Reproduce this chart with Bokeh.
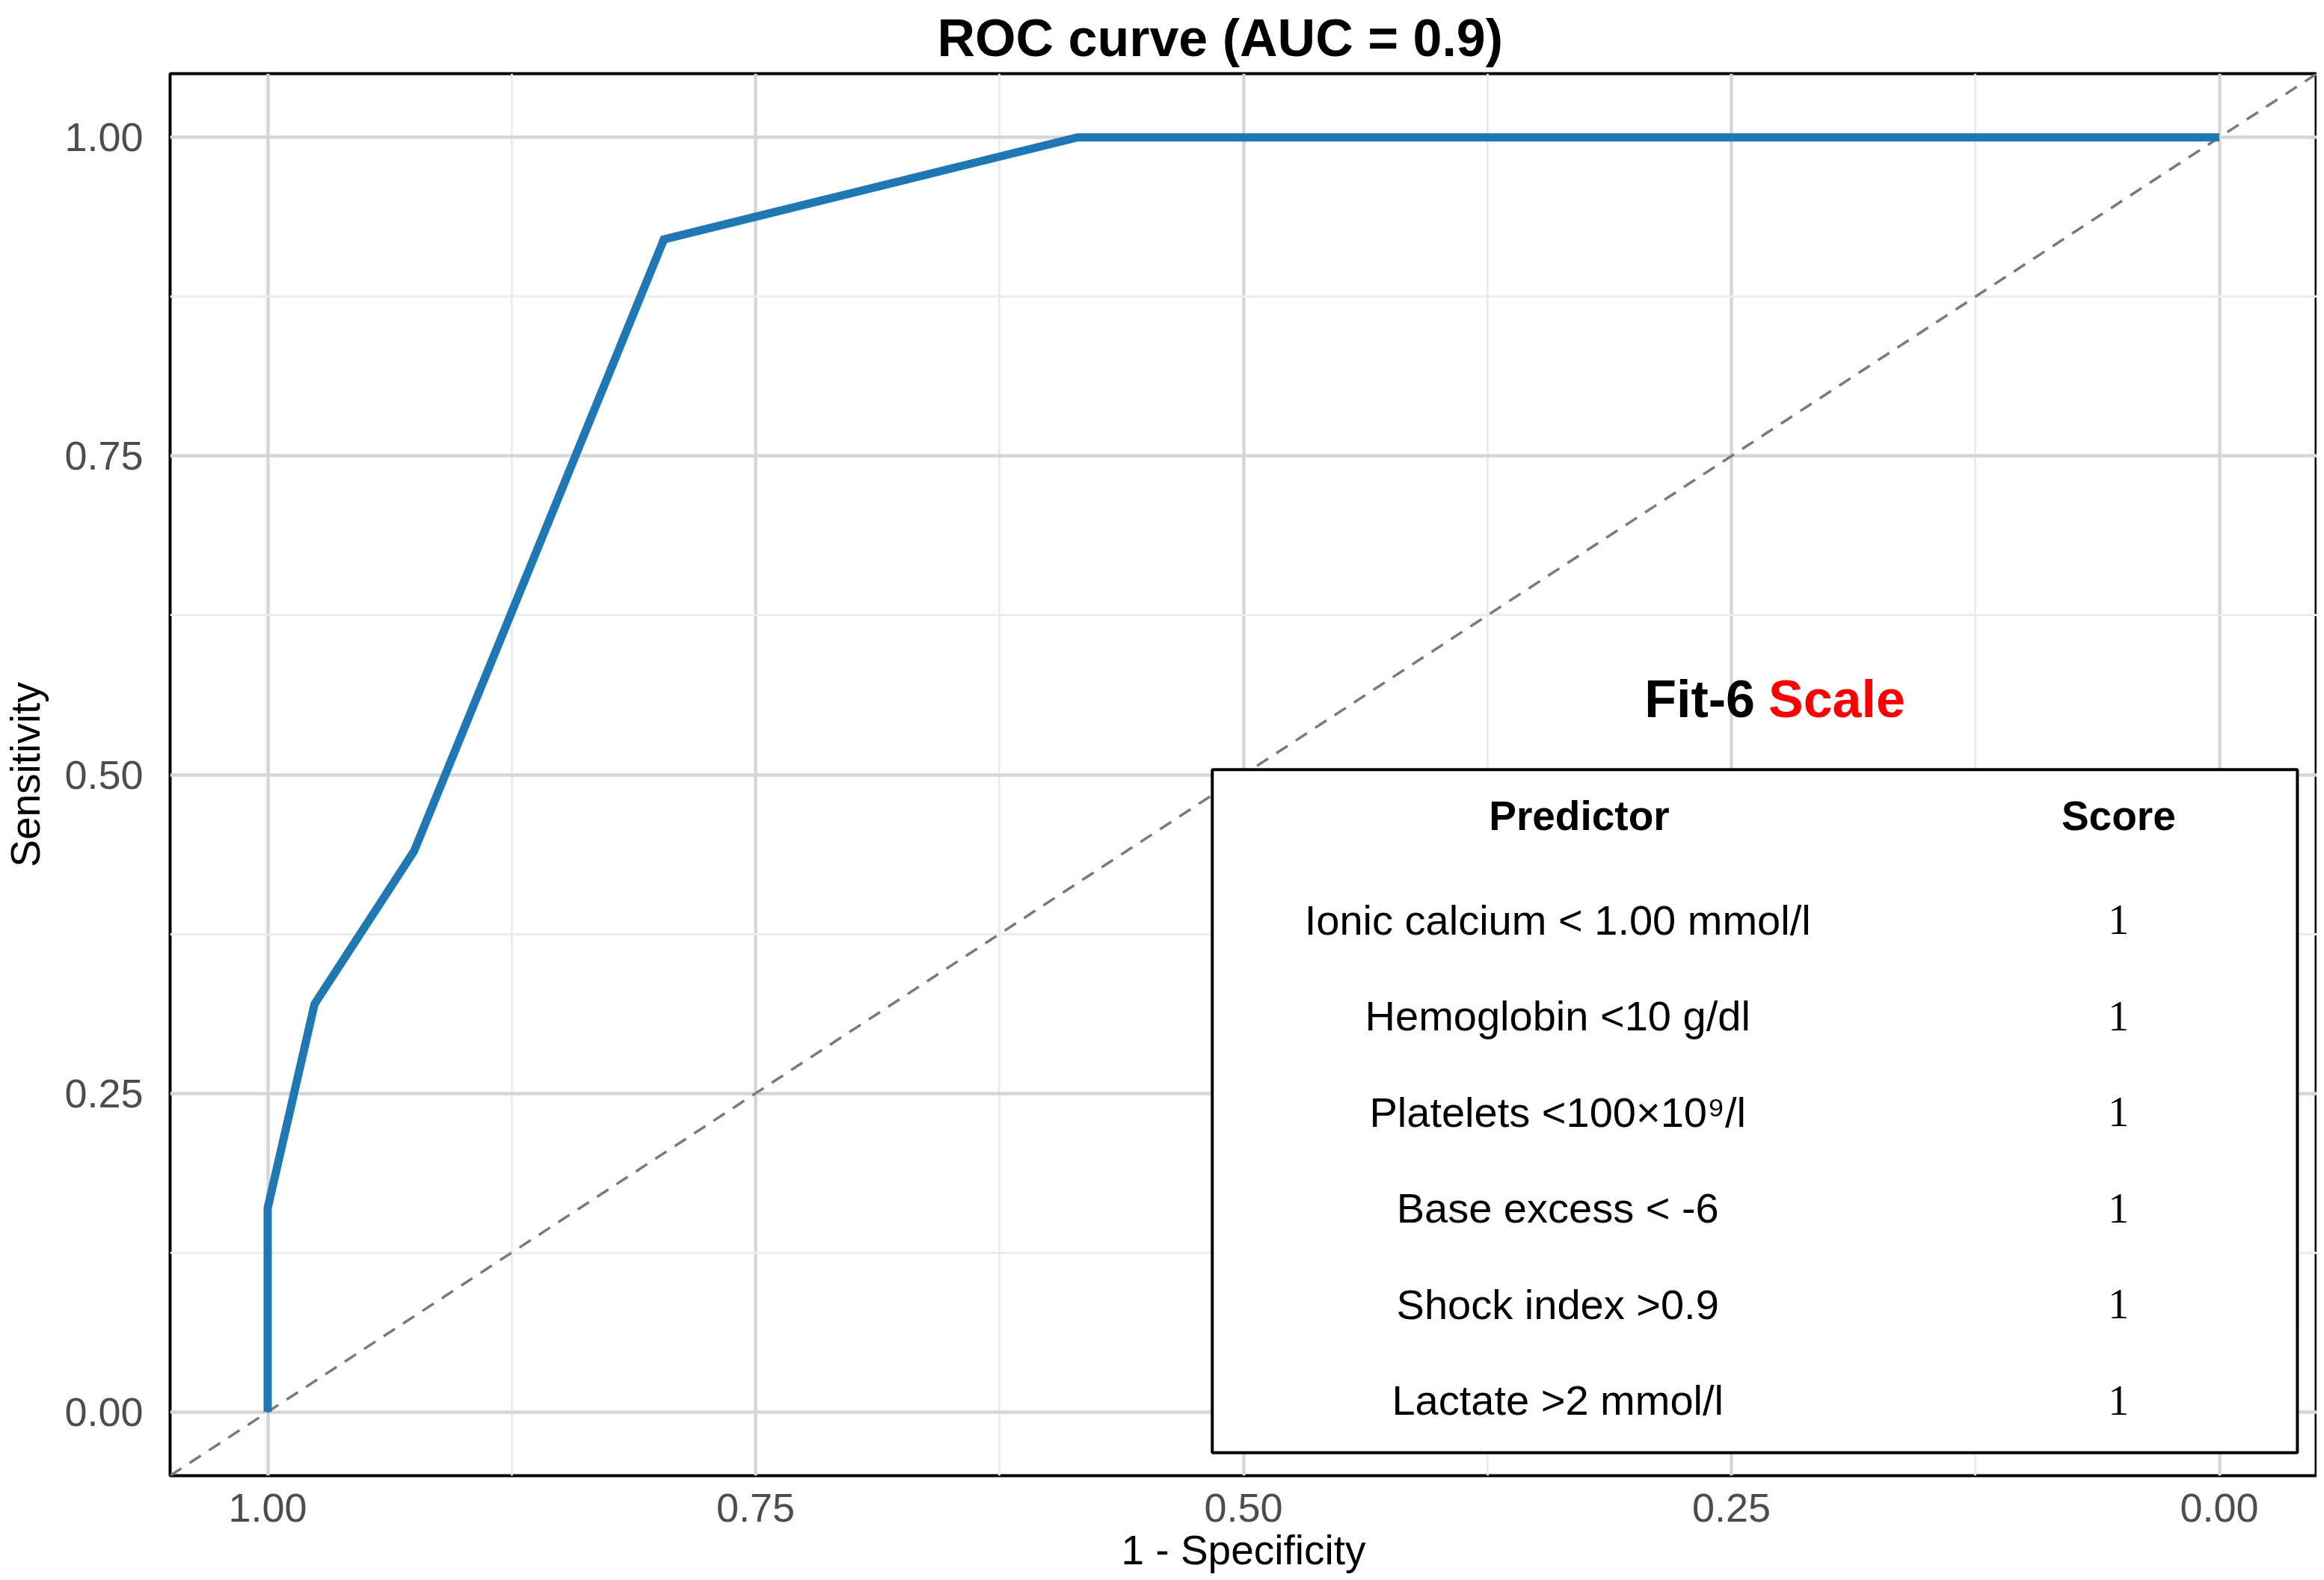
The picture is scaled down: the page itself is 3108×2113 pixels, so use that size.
from bokeh.plotting import figure
from bokeh.models import Range1d, FixedTicker, NumeralTickFormatter, Slope, ColumnDataSource
from bokeh.core.properties import value
from bokeh.embed import file_html
from bokeh.resources import INLINE

# ---- data ----
specificity = [1.0, 1.0, 0.976, 0.925, 0.797, 0.585, 0.0]
sensitivity = [0.0, 0.16, 0.32, 0.44, 0.92, 1.0, 1.0]
tick_values = [0.0, 0.25, 0.5, 0.75, 1.0]
minor_values = [0.125, 0.375, 0.625, 0.875]
chart_title = "ROC curve (AUC = 0.9)"
table_title_black = "Fit-6"
table_title_red = "Scale"
header_labels = ["Predictor", "Score"]
predictors = [
    "Ionic calcium < 1.00 mmol/l",
    "Hemoglobin <10 g/dl",
    "Platelets <100\u00d710\u2079/l",
    "Base excess < -6",
    "Shock index >0.9",
    "Lactate >2 mmol/l",
]
scores = ["1", "1", "1", "1", "1", "1"]

SANS = "Liberation Sans"
SERIF = "Liberation Serif"

p = figure(
    frame_width=2871, frame_height=1875,
    x_range=Range1d(1.05, -0.05), y_range=Range1d(-0.05, 1.05),
    output_backend="svg", toolbar_location=None,
    min_border_left=221, min_border_right=0, min_border_top=85, min_border_bottom=134,
    title=chart_title,
    background_fill_color="white", border_fill_color="white",
)

# title
p.title.text_font = SANS
p.title.text_font_size = "70px"
p.title.text_font_style = "bold"
p.title.text_color = "black"
p.title.align = "left"
p.title.offset = 1026
p.title.standoff = 18

# outline
p.outline_line_color = "black"
p.outline_line_width = 4
p.outline_line_alpha = 1.0

# axes
for ax in (p.xaxis[0], p.yaxis[0]):
    ax.ticker = FixedTicker(ticks=tick_values, minor_ticks=minor_values)
    ax.formatter = NumeralTickFormatter(format="0.00")
    ax.axis_line_color = None
    ax.major_tick_line_color = None
    ax.minor_tick_line_color = None
    ax.major_tick_out = 0
    ax.major_tick_in = 0
    ax.major_label_text_font = SANS
    ax.major_label_text_font_size = "54px"
    ax.major_label_text_color = "#4d4d4d"
    ax.axis_label_text_font = SANS
    ax.axis_label_text_font_size = "55px"
    ax.axis_label_text_font_style = "normal"
    ax.axis_label_text_color = "black"

p.xaxis.axis_label = "1 - Specificity"
p.yaxis.axis_label = "Sensitivity"
p.xaxis.major_label_standoff = 20
p.yaxis.major_label_standoff = 32
p.xaxis.axis_label_standoff = 4
p.yaxis.axis_label_standoff = 18

# grid
for g in (p.xgrid[0], p.ygrid[0]):
    g.grid_line_color = "#d6d6d6"
    g.grid_line_width = 4.5
    g.minor_grid_line_color = "#ececec"
    g.minor_grid_line_width = 3

# diagonal reference line
diag = Slope(gradient=-1, y_intercept=1, line_color="#7a7a7a", line_width=3.5,
             line_dash="18 13", level="underlay")
p.add_layout(diag)

# ROC curve
src = ColumnDataSource(dict(x=specificity, y=sensitivity))
p.line("x", "y", source=src, line_color="#1f77b4", line_width=11, line_join="miter")

# ---- table annotation (layout positions in data units) ----
box_left, box_right, box_bottom, box_top = 0.516, -0.040, -0.032, 0.504
p.quad(left=[box_left], right=[box_right], bottom=[box_bottom], top=[box_top],
       fill_color="white", line_color="black", line_width=4)

title_x, title_y = 0.2345, 0.559
p.text(x=[title_x], y=[title_y], text=[table_title_black], text_font=value(SANS),
       text_font_size="70px", text_font_style="bold", text_color="black",
       text_align="right", text_baseline="middle", x_offset=-9)
p.text(x=[title_x], y=[title_y], text=[table_title_red], text_font=value(SANS),
       text_font_size="70px", text_font_style="bold", text_color="#ff0000",
       text_align="left", text_baseline="middle", x_offset=9)

pred_x, score_x, header_y = 0.328, 0.0516, 0.468
p.text(x=[pred_x, score_x], y=[header_y, header_y], text=header_labels,
       text_font=value(SANS), text_font_size="55px", text_font_style="bold",
       text_color="black", text_align="center", text_baseline="middle")

row_top, row_step, row_x = 0.386, 0.0754, 0.339
row_y = [row_top - i * row_step for i in range(len(predictors))]
p.text(x=[row_x] * len(predictors), y=row_y, text=predictors,
       text_font=value(SANS), text_font_size="56px", text_color="black",
       text_align="center", text_baseline="middle")
p.text(x=[score_x] * len(scores), y=row_y, text=scores,
       text_font=value(SERIF), text_font_size="56px", text_color="black",
       text_align="center", text_baseline="middle")

open("out.html", "w").write(file_html(p, INLINE))
